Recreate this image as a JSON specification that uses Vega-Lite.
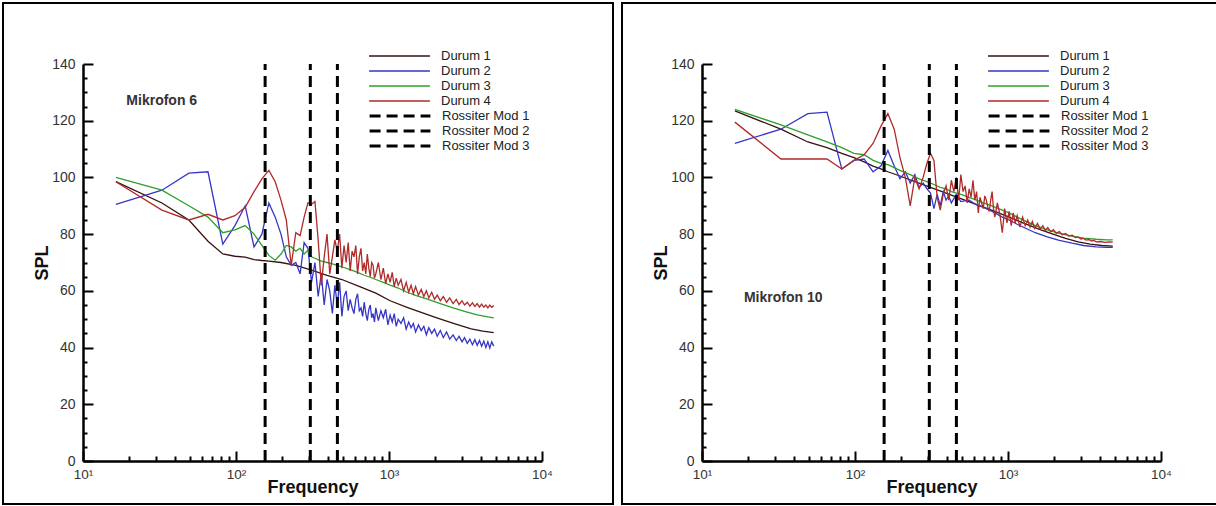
{
  "$schema": "https://vega.github.io/schema/vega-lite/v6.json",
  "background": "white",
  "padding": {"left": 2, "top": 2, "right": 0, "bottom": 0},
  "spacing": 7,
  "config": {
    "font": "Liberation Sans",
    "view": {"stroke": "black", "strokeWidth": 2},
    "axis": {"grid": false, "domainColor": "black", "tickColor": "black", "labelColor": "#333", "titleColor": "#111"}
  },
  "datasets": {
    "m6": [
      {"series": "Durum 1", "f": 16.4, "spl": 98.5}, {"series": "Durum 1", "f": 32.8, "spl": 91}, {"series": "Durum 1", "f": 49.2, "spl": 85}, {"series": "Durum 1", "f": 65.6, "spl": 77.5}, {"series": "Durum 1", "f": 82, "spl": 73}, {"series": "Durum 1", "f": 98.4, "spl": 72.2}, {"series": "Durum 1", "f": 114.8, "spl": 71.9}, {"series": "Durum 1", "f": 131.2, "spl": 71}, {"series": "Durum 1", "f": 147.6, "spl": 70.7}, {"series": "Durum 1", "f": 164, "spl": 70.5}, {"series": "Durum 1", "f": 196.8, "spl": 70}, {"series": "Durum 1", "f": 246, "spl": 69}, {"series": "Durum 1", "f": 311.6, "spl": 67.3}, {"series": "Durum 1", "f": 393.6, "spl": 65.5}, {"series": "Durum 1", "f": 492, "spl": 64}, {"series": "Durum 1", "f": 656, "spl": 61.3}, {"series": "Durum 1", "f": 820, "spl": 59.2}, {"series": "Durum 1", "f": 1017, "spl": 56.5}, {"series": "Durum 1", "f": 1312, "spl": 54.2}, {"series": "Durum 1", "f": 1640, "spl": 52.3}, {"series": "Durum 1", "f": 1968, "spl": 50.8}, {"series": "Durum 1", "f": 2378, "spl": 49.3}, {"series": "Durum 1", "f": 2870, "spl": 47.9}, {"series": "Durum 1", "f": 3444, "spl": 46.6}, {"series": "Durum 1", "f": 4100, "spl": 45.8}, {"series": "Durum 1", "f": 4838, "spl": 45.3},

      {"series": "Durum 2", "f": 16.4, "spl": 90.5}, {"series": "Durum 2", "f": 32.8, "spl": 95.5}, {"series": "Durum 2", "f": 49.2, "spl": 101.5}, {"series": "Durum 2", "f": 65.6, "spl": 102}, {"series": "Durum 2", "f": 82, "spl": 76.5}, {"series": "Durum 2", "f": 98.4, "spl": 83}, {"series": "Durum 2", "f": 114.8, "spl": 90}, {"series": "Durum 2", "f": 131.2, "spl": 75.5}, {"series": "Durum 2", "f": 147.6, "spl": 80}, {"series": "Durum 2", "f": 164, "spl": 91}, {"series": "Durum 2", "f": 180.4, "spl": 86}, {"series": "Durum 2", "f": 196.8, "spl": 80}, {"series": "Durum 2", "f": 213.2, "spl": 72}, {"series": "Durum 2", "f": 229.6, "spl": 69}, {"series": "Durum 2", "f": 246, "spl": 70}, {"series": "Durum 2", "f": 262.4, "spl": 66}, {"series": "Durum 2", "f": 278.8, "spl": 77}, {"series": "Durum 2", "f": 295.2, "spl": 75}, {"series": "Durum 2", "f": 311.6, "spl": 63}, {"series": "Durum 2", "f": 328, "spl": 70}, {"series": "Durum 2", "f": 344.4, "spl": 58}, {"series": "Durum 2", "f": 360.8, "spl": 66}, {"series": "Durum 2", "f": 377.2, "spl": 55}, {"series": "Durum 2", "f": 393.6, "spl": 64}, {"series": "Durum 2", "f": 410, "spl": 60}, {"series": "Durum 2", "f": 426.4, "spl": 52}, {"series": "Durum 2", "f": 442.8, "spl": 62}, {"series": "Durum 2", "f": 459.2, "spl": 55}, {"series": "Durum 2", "f": 475.6, "spl": 63}, {"series": "Durum 2", "f": 492, "spl": 51}, {"series": "Durum 2", "f": 508.4, "spl": 58}, {"series": "Durum 2", "f": 524.8, "spl": 60}, {"series": "Durum 2", "f": 541.2, "spl": 53}, {"series": "Durum 2", "f": 557.6, "spl": 57}, {"series": "Durum 2", "f": 574, "spl": 54}, {"series": "Durum 2", "f": 590.4, "spl": 52}, {"series": "Durum 2", "f": 606.8, "spl": 57}, {"series": "Durum 2", "f": 623.2, "spl": 59}, {"series": "Durum 2", "f": 639.6, "spl": 53}, {"series": "Durum 2", "f": 656, "spl": 54}, {"series": "Durum 2", "f": 672.4, "spl": 51}, {"series": "Durum 2", "f": 688.8, "spl": 56}, {"series": "Durum 2", "f": 705.2, "spl": 52}, {"series": "Durum 2", "f": 721.6, "spl": 49.5}, {"series": "Durum 2", "f": 738, "spl": 53.5}, {"series": "Durum 2", "f": 754.4, "spl": 55}, {"series": "Durum 2", "f": 770.8, "spl": 50.5}, {"series": "Durum 2", "f": 787.2, "spl": 52}, {"series": "Durum 2", "f": 803.6, "spl": 49}, {"series": "Durum 2", "f": 820, "spl": 54}, {"series": "Durum 2", "f": 852, "spl": 49.5}, {"series": "Durum 2", "f": 885, "spl": 53}, {"series": "Durum 2", "f": 918, "spl": 50.5}, {"series": "Durum 2", "f": 951, "spl": 53.5}, {"series": "Durum 2", "f": 984, "spl": 48}, {"series": "Durum 2", "f": 1017, "spl": 51.5}, {"series": "Durum 2", "f": 1050, "spl": 49}, {"series": "Durum 2", "f": 1082, "spl": 52}, {"series": "Durum 2", "f": 1115, "spl": 47.5}, {"series": "Durum 2", "f": 1148, "spl": 50}, {"series": "Durum 2", "f": 1197, "spl": 48.5}, {"series": "Durum 2", "f": 1246, "spl": 50.5}, {"series": "Durum 2", "f": 1295, "spl": 46.5}, {"series": "Durum 2", "f": 1345, "spl": 49}, {"series": "Durum 2", "f": 1394, "spl": 47}, {"series": "Durum 2", "f": 1443, "spl": 48.5}, {"series": "Durum 2", "f": 1492, "spl": 45.5}, {"series": "Durum 2", "f": 1558, "spl": 48}, {"series": "Durum 2", "f": 1624, "spl": 46}, {"series": "Durum 2", "f": 1689, "spl": 47.5}, {"series": "Durum 2", "f": 1755, "spl": 44.5}, {"series": "Durum 2", "f": 1820, "spl": 47}, {"series": "Durum 2", "f": 1902, "spl": 45}, {"series": "Durum 2", "f": 1984, "spl": 46.5}, {"series": "Durum 2", "f": 2066, "spl": 44}, {"series": "Durum 2", "f": 2165, "spl": 46}, {"series": "Durum 2", "f": 2264, "spl": 43.5}, {"series": "Durum 2", "f": 2378, "spl": 45.5}, {"series": "Durum 2", "f": 2493, "spl": 43}, {"series": "Durum 2", "f": 2624, "spl": 44.5}, {"series": "Durum 2", "f": 2755, "spl": 42.5}, {"series": "Durum 2", "f": 2870, "spl": 44}, {"series": "Durum 2", "f": 3001, "spl": 42}, {"series": "Durum 2", "f": 3116, "spl": 43.5}, {"series": "Durum 2", "f": 3247, "spl": 41.5}, {"series": "Durum 2", "f": 3378, "spl": 43}, {"series": "Durum 2", "f": 3509, "spl": 41}, {"series": "Durum 2", "f": 3641, "spl": 42.8}, {"series": "Durum 2", "f": 3772, "spl": 40.8}, {"series": "Durum 2", "f": 3903, "spl": 42.5}, {"series": "Durum 2", "f": 4034, "spl": 40.5}, {"series": "Durum 2", "f": 4166, "spl": 42.3}, {"series": "Durum 2", "f": 4297, "spl": 40}, {"series": "Durum 2", "f": 4428, "spl": 42}, {"series": "Durum 2", "f": 4559, "spl": 39.8}, {"series": "Durum 2", "f": 4690, "spl": 42}, {"series": "Durum 2", "f": 4838, "spl": 40.5},

      {"series": "Durum 3", "f": 16.4, "spl": 100}, {"series": "Durum 3", "f": 32.8, "spl": 95.5}, {"series": "Durum 3", "f": 49.2, "spl": 90}, {"series": "Durum 3", "f": 65.6, "spl": 86}, {"series": "Durum 3", "f": 82, "spl": 80.5}, {"series": "Durum 3", "f": 98.4, "spl": 81.5}, {"series": "Durum 3", "f": 114.8, "spl": 83}, {"series": "Durum 3", "f": 131.2, "spl": 80}, {"series": "Durum 3", "f": 147.6, "spl": 76}, {"series": "Durum 3", "f": 164, "spl": 72.5}, {"series": "Durum 3", "f": 180.4, "spl": 70.8}, {"series": "Durum 3", "f": 196.8, "spl": 73}, {"series": "Durum 3", "f": 213.2, "spl": 76}, {"series": "Durum 3", "f": 229.6, "spl": 75.5}, {"series": "Durum 3", "f": 246, "spl": 74}, {"series": "Durum 3", "f": 262.4, "spl": 75}, {"series": "Durum 3", "f": 278.8, "spl": 73}, {"series": "Durum 3", "f": 295.2, "spl": 74.3}, {"series": "Durum 3", "f": 311.6, "spl": 72}, {"series": "Durum 3", "f": 328, "spl": 71.5}, {"series": "Durum 3", "f": 360.8, "spl": 70.5}, {"series": "Durum 3", "f": 393.6, "spl": 70}, {"series": "Durum 3", "f": 426.4, "spl": 69.5}, {"series": "Durum 3", "f": 459.2, "spl": 69}, {"series": "Durum 3", "f": 492, "spl": 68.5}, {"series": "Durum 3", "f": 557.6, "spl": 67.5}, {"series": "Durum 3", "f": 623.2, "spl": 66.5}, {"series": "Durum 3", "f": 688.8, "spl": 65.5}, {"series": "Durum 3", "f": 754.4, "spl": 64.8}, {"series": "Durum 3", "f": 820, "spl": 64}, {"series": "Durum 3", "f": 918.4, "spl": 63}, {"series": "Durum 3", "f": 1017, "spl": 62}, {"series": "Durum 3", "f": 1148, "spl": 61}, {"series": "Durum 3", "f": 1312, "spl": 59.5}, {"series": "Durum 3", "f": 1509, "spl": 58.3}, {"series": "Durum 3", "f": 1804, "spl": 57}, {"series": "Durum 3", "f": 2165, "spl": 55.5}, {"series": "Durum 3", "f": 2624, "spl": 54}, {"series": "Durum 3", "f": 3116, "spl": 52.8}, {"series": "Durum 3", "f": 3772, "spl": 51.5}, {"series": "Durum 3", "f": 4428, "spl": 50.8}, {"series": "Durum 3", "f": 4838, "spl": 50.5},

      {"series": "Durum 4", "f": 16.4, "spl": 98.5}, {"series": "Durum 4", "f": 32.8, "spl": 88.5}, {"series": "Durum 4", "f": 49.2, "spl": 85}, {"series": "Durum 4", "f": 65.6, "spl": 87}, {"series": "Durum 4", "f": 82, "spl": 85}, {"series": "Durum 4", "f": 98.4, "spl": 86.5}, {"series": "Durum 4", "f": 114.8, "spl": 89.5}, {"series": "Durum 4", "f": 131.2, "spl": 95}, {"series": "Durum 4", "f": 147.6, "spl": 99.5}, {"series": "Durum 4", "f": 164, "spl": 102.5}, {"series": "Durum 4", "f": 180.4, "spl": 98.5}, {"series": "Durum 4", "f": 196.8, "spl": 92}, {"series": "Durum 4", "f": 213.2, "spl": 85}, {"series": "Durum 4", "f": 229.6, "spl": 69}, {"series": "Durum 4", "f": 246, "spl": 80.5}, {"series": "Durum 4", "f": 262.4, "spl": 79.5}, {"series": "Durum 4", "f": 278.8, "spl": 86}, {"series": "Durum 4", "f": 295.2, "spl": 91}, {"series": "Durum 4", "f": 311.6, "spl": 90.5}, {"series": "Durum 4", "f": 328, "spl": 91.5}, {"series": "Durum 4", "f": 344.4, "spl": 78}, {"series": "Durum 4", "f": 360.8, "spl": 62}, {"series": "Durum 4", "f": 377.2, "spl": 72}, {"series": "Durum 4", "f": 393.6, "spl": 80}, {"series": "Durum 4", "f": 410, "spl": 66}, {"series": "Durum 4", "f": 426.4, "spl": 72}, {"series": "Durum 4", "f": 442.8, "spl": 78}, {"series": "Durum 4", "f": 459.2, "spl": 74}, {"series": "Durum 4", "f": 475.6, "spl": 80}, {"series": "Durum 4", "f": 492, "spl": 68}, {"series": "Durum 4", "f": 508.4, "spl": 76}, {"series": "Durum 4", "f": 524.8, "spl": 70}, {"series": "Durum 4", "f": 541.2, "spl": 77}, {"series": "Durum 4", "f": 557.6, "spl": 67}, {"series": "Durum 4", "f": 574, "spl": 74}, {"series": "Durum 4", "f": 590.4, "spl": 72}, {"series": "Durum 4", "f": 606.8, "spl": 76}, {"series": "Durum 4", "f": 623.2, "spl": 66}, {"series": "Durum 4", "f": 639.6, "spl": 72}, {"series": "Durum 4", "f": 656, "spl": 75}, {"series": "Durum 4", "f": 672.4, "spl": 67}, {"series": "Durum 4", "f": 688.8, "spl": 70}, {"series": "Durum 4", "f": 705.2, "spl": 66}, {"series": "Durum 4", "f": 721.6, "spl": 73}, {"series": "Durum 4", "f": 738, "spl": 68}, {"series": "Durum 4", "f": 754.4, "spl": 65}, {"series": "Durum 4", "f": 770.8, "spl": 70}, {"series": "Durum 4", "f": 787.2, "spl": 69}, {"series": "Durum 4", "f": 803.6, "spl": 64.5}, {"series": "Durum 4", "f": 820, "spl": 66}, {"series": "Durum 4", "f": 852, "spl": 70}, {"series": "Durum 4", "f": 885, "spl": 64}, {"series": "Durum 4", "f": 918, "spl": 68}, {"series": "Durum 4", "f": 951, "spl": 62.5}, {"series": "Durum 4", "f": 984, "spl": 66}, {"series": "Durum 4", "f": 1017, "spl": 63}, {"series": "Durum 4", "f": 1050, "spl": 66.5}, {"series": "Durum 4", "f": 1082, "spl": 61.5}, {"series": "Durum 4", "f": 1115, "spl": 64.5}, {"series": "Durum 4", "f": 1148, "spl": 62}, {"series": "Durum 4", "f": 1197, "spl": 64}, {"series": "Durum 4", "f": 1246, "spl": 60}, {"series": "Durum 4", "f": 1295, "spl": 63}, {"series": "Durum 4", "f": 1345, "spl": 59.5}, {"series": "Durum 4", "f": 1394, "spl": 62}, {"series": "Durum 4", "f": 1443, "spl": 59}, {"series": "Durum 4", "f": 1492, "spl": 61.5}, {"series": "Durum 4", "f": 1558, "spl": 58.5}, {"series": "Durum 4", "f": 1624, "spl": 60.5}, {"series": "Durum 4", "f": 1689, "spl": 58}, {"series": "Durum 4", "f": 1755, "spl": 60}, {"series": "Durum 4", "f": 1820, "spl": 57.5}, {"series": "Durum 4", "f": 1902, "spl": 59.5}, {"series": "Durum 4", "f": 1984, "spl": 57}, {"series": "Durum 4", "f": 2066, "spl": 58.5}, {"series": "Durum 4", "f": 2165, "spl": 56.5}, {"series": "Durum 4", "f": 2264, "spl": 58}, {"series": "Durum 4", "f": 2378, "spl": 56}, {"series": "Durum 4", "f": 2493, "spl": 57.5}, {"series": "Durum 4", "f": 2624, "spl": 55.5}, {"series": "Durum 4", "f": 2755, "spl": 57}, {"series": "Durum 4", "f": 2870, "spl": 55.2}, {"series": "Durum 4", "f": 3001, "spl": 56.5}, {"series": "Durum 4", "f": 3116, "spl": 55}, {"series": "Durum 4", "f": 3247, "spl": 56}, {"series": "Durum 4", "f": 3378, "spl": 54.6}, {"series": "Durum 4", "f": 3509, "spl": 55.8}, {"series": "Durum 4", "f": 3641, "spl": 54.5}, {"series": "Durum 4", "f": 3772, "spl": 55.5}, {"series": "Durum 4", "f": 3903, "spl": 54.3}, {"series": "Durum 4", "f": 4034, "spl": 55.3}, {"series": "Durum 4", "f": 4166, "spl": 54.2}, {"series": "Durum 4", "f": 4297, "spl": 55}, {"series": "Durum 4", "f": 4428, "spl": 54}, {"series": "Durum 4", "f": 4559, "spl": 55}, {"series": "Durum 4", "f": 4690, "spl": 54.2}, {"series": "Durum 4", "f": 4838, "spl": 54.8}
    ],
    "m10": [
      {"series": "Durum 1", "f": 16.4, "spl": 123.5}, {"series": "Durum 1", "f": 32.8, "spl": 117}, {"series": "Durum 1", "f": 49.2, "spl": 112.5}, {"series": "Durum 1", "f": 65.6, "spl": 110.5}, {"series": "Durum 1", "f": 82, "spl": 108.5}, {"series": "Durum 1", "f": 98.4, "spl": 107}, {"series": "Durum 1", "f": 114.8, "spl": 105.5}, {"series": "Durum 1", "f": 131.2, "spl": 104}, {"series": "Durum 1", "f": 147.6, "spl": 103}, {"series": "Durum 1", "f": 164, "spl": 102}, {"series": "Durum 1", "f": 196.8, "spl": 100.5}, {"series": "Durum 1", "f": 246, "spl": 98.5}, {"series": "Durum 1", "f": 311.6, "spl": 96.5}, {"series": "Durum 1", "f": 393.6, "spl": 94.5}, {"series": "Durum 1", "f": 492, "spl": 92.5}, {"series": "Durum 1", "f": 656, "spl": 90}, {"series": "Durum 1", "f": 820, "spl": 88}, {"series": "Durum 1", "f": 1017, "spl": 86}, {"series": "Durum 1", "f": 1312, "spl": 83.5}, {"series": "Durum 1", "f": 1640, "spl": 81.5}, {"series": "Durum 1", "f": 1968, "spl": 80}, {"series": "Durum 1", "f": 2378, "spl": 78.5}, {"series": "Durum 1", "f": 2870, "spl": 77.3}, {"series": "Durum 1", "f": 3444, "spl": 76.5}, {"series": "Durum 1", "f": 4100, "spl": 76}, {"series": "Durum 1", "f": 4838, "spl": 75.8},

      {"series": "Durum 2", "f": 16.4, "spl": 112}, {"series": "Durum 2", "f": 32.8, "spl": 117}, {"series": "Durum 2", "f": 49.2, "spl": 122.5}, {"series": "Durum 2", "f": 65.6, "spl": 123}, {"series": "Durum 2", "f": 82, "spl": 103}, {"series": "Durum 2", "f": 98.4, "spl": 106}, {"series": "Durum 2", "f": 114.8, "spl": 106.5}, {"series": "Durum 2", "f": 131.2, "spl": 102}, {"series": "Durum 2", "f": 147.6, "spl": 104}, {"series": "Durum 2", "f": 164, "spl": 109.5}, {"series": "Durum 2", "f": 180.4, "spl": 104}, {"series": "Durum 2", "f": 196.8, "spl": 99.5}, {"series": "Durum 2", "f": 213.2, "spl": 102}, {"series": "Durum 2", "f": 229.6, "spl": 98}, {"series": "Durum 2", "f": 246, "spl": 101}, {"series": "Durum 2", "f": 262.4, "spl": 96.5}, {"series": "Durum 2", "f": 278.8, "spl": 98}, {"series": "Durum 2", "f": 295.2, "spl": 96}, {"series": "Durum 2", "f": 311.6, "spl": 94.5}, {"series": "Durum 2", "f": 328, "spl": 89}, {"series": "Durum 2", "f": 344.4, "spl": 94}, {"series": "Durum 2", "f": 360.8, "spl": 90}, {"series": "Durum 2", "f": 377.2, "spl": 95}, {"series": "Durum 2", "f": 393.6, "spl": 92}, {"series": "Durum 2", "f": 410, "spl": 93.5}, {"series": "Durum 2", "f": 426.4, "spl": 91}, {"series": "Durum 2", "f": 459.2, "spl": 94}, {"series": "Durum 2", "f": 492, "spl": 91.5}, {"series": "Durum 2", "f": 557.6, "spl": 92}, {"series": "Durum 2", "f": 623.2, "spl": 90.3}, {"series": "Durum 2", "f": 688.8, "spl": 89.5}, {"series": "Durum 2", "f": 754.4, "spl": 88.5}, {"series": "Durum 2", "f": 820, "spl": 87.5}, {"series": "Durum 2", "f": 918.4, "spl": 86}, {"series": "Durum 2", "f": 1017, "spl": 85}, {"series": "Durum 2", "f": 1148, "spl": 83.5}, {"series": "Durum 2", "f": 1312, "spl": 82}, {"series": "Durum 2", "f": 1509, "spl": 80.5}, {"series": "Durum 2", "f": 1804, "spl": 79}, {"series": "Durum 2", "f": 2165, "spl": 77.8}, {"series": "Durum 2", "f": 2624, "spl": 76.8}, {"series": "Durum 2", "f": 3116, "spl": 76}, {"series": "Durum 2", "f": 3772, "spl": 75.5}, {"series": "Durum 2", "f": 4428, "spl": 75.3}, {"series": "Durum 2", "f": 4838, "spl": 75.3},

      {"series": "Durum 3", "f": 16.4, "spl": 124}, {"series": "Durum 3", "f": 32.8, "spl": 118.5}, {"series": "Durum 3", "f": 49.2, "spl": 115}, {"series": "Durum 3", "f": 65.6, "spl": 112.5}, {"series": "Durum 3", "f": 82, "spl": 110.5}, {"series": "Durum 3", "f": 98.4, "spl": 108.5}, {"series": "Durum 3", "f": 114.8, "spl": 108}, {"series": "Durum 3", "f": 131.2, "spl": 106}, {"series": "Durum 3", "f": 147.6, "spl": 105}, {"series": "Durum 3", "f": 164, "spl": 104.5}, {"series": "Durum 3", "f": 196.8, "spl": 102.5}, {"series": "Durum 3", "f": 229.6, "spl": 101}, {"series": "Durum 3", "f": 262.4, "spl": 99.5}, {"series": "Durum 3", "f": 295.2, "spl": 98.5}, {"series": "Durum 3", "f": 328, "spl": 97.5}, {"series": "Durum 3", "f": 360.8, "spl": 96.5}, {"series": "Durum 3", "f": 393.6, "spl": 96}, {"series": "Durum 3", "f": 426.4, "spl": 95}, {"series": "Durum 3", "f": 459.2, "spl": 94.5}, {"series": "Durum 3", "f": 492, "spl": 94}, {"series": "Durum 3", "f": 557.6, "spl": 93}, {"series": "Durum 3", "f": 623.2, "spl": 92}, {"series": "Durum 3", "f": 688.8, "spl": 91}, {"series": "Durum 3", "f": 754.4, "spl": 90.3}, {"series": "Durum 3", "f": 820, "spl": 89.5}, {"series": "Durum 3", "f": 918.4, "spl": 88.5}, {"series": "Durum 3", "f": 1017, "spl": 87.5}, {"series": "Durum 3", "f": 1148, "spl": 86}, {"series": "Durum 3", "f": 1312, "spl": 84.5}, {"series": "Durum 3", "f": 1509, "spl": 83}, {"series": "Durum 3", "f": 1804, "spl": 81.5}, {"series": "Durum 3", "f": 2165, "spl": 80.3}, {"series": "Durum 3", "f": 2624, "spl": 79.3}, {"series": "Durum 3", "f": 3116, "spl": 78.6}, {"series": "Durum 3", "f": 3772, "spl": 78.2}, {"series": "Durum 3", "f": 4428, "spl": 78}, {"series": "Durum 3", "f": 4838, "spl": 78},

      {"series": "Durum 4", "f": 16.4, "spl": 119.5}, {"series": "Durum 4", "f": 32.8, "spl": 106.5}, {"series": "Durum 4", "f": 49.2, "spl": 106.5}, {"series": "Durum 4", "f": 65.6, "spl": 106.5}, {"series": "Durum 4", "f": 82, "spl": 103}, {"series": "Durum 4", "f": 98.4, "spl": 106}, {"series": "Durum 4", "f": 114.8, "spl": 108}, {"series": "Durum 4", "f": 131.2, "spl": 112}, {"series": "Durum 4", "f": 147.6, "spl": 118}, {"series": "Durum 4", "f": 164, "spl": 122.5}, {"series": "Durum 4", "f": 180.4, "spl": 117}, {"series": "Durum 4", "f": 196.8, "spl": 107}, {"series": "Durum 4", "f": 213.2, "spl": 100}, {"series": "Durum 4", "f": 229.6, "spl": 90}, {"series": "Durum 4", "f": 246, "spl": 100}, {"series": "Durum 4", "f": 262.4, "spl": 96}, {"series": "Durum 4", "f": 278.8, "spl": 100}, {"series": "Durum 4", "f": 295.2, "spl": 105}, {"series": "Durum 4", "f": 311.6, "spl": 108.5}, {"series": "Durum 4", "f": 328, "spl": 106}, {"series": "Durum 4", "f": 344.4, "spl": 93}, {"series": "Durum 4", "f": 360.8, "spl": 88.5}, {"series": "Durum 4", "f": 377.2, "spl": 94}, {"series": "Durum 4", "f": 393.6, "spl": 97}, {"series": "Durum 4", "f": 410, "spl": 92}, {"series": "Durum 4", "f": 426.4, "spl": 99}, {"series": "Durum 4", "f": 442.8, "spl": 95}, {"series": "Durum 4", "f": 459.2, "spl": 100}, {"series": "Durum 4", "f": 475.6, "spl": 92}, {"series": "Durum 4", "f": 492, "spl": 101}, {"series": "Durum 4", "f": 508.4, "spl": 95}, {"series": "Durum 4", "f": 524.8, "spl": 97}, {"series": "Durum 4", "f": 541.2, "spl": 91}, {"series": "Durum 4", "f": 557.6, "spl": 96}, {"series": "Durum 4", "f": 574, "spl": 93}, {"series": "Durum 4", "f": 590.4, "spl": 99}, {"series": "Durum 4", "f": 606.8, "spl": 92}, {"series": "Durum 4", "f": 623.2, "spl": 95}, {"series": "Durum 4", "f": 639.6, "spl": 87.5}, {"series": "Durum 4", "f": 656, "spl": 93}, {"series": "Durum 4", "f": 672.4, "spl": 91}, {"series": "Durum 4", "f": 688.8, "spl": 89}, {"series": "Durum 4", "f": 705.2, "spl": 93.5}, {"series": "Durum 4", "f": 721.6, "spl": 92}, {"series": "Durum 4", "f": 738, "spl": 89.5}, {"series": "Durum 4", "f": 754.4, "spl": 88}, {"series": "Durum 4", "f": 770.8, "spl": 92}, {"series": "Durum 4", "f": 787.2, "spl": 95}, {"series": "Durum 4", "f": 803.6, "spl": 89}, {"series": "Durum 4", "f": 820, "spl": 86}, {"series": "Durum 4", "f": 852, "spl": 91}, {"series": "Durum 4", "f": 885, "spl": 87}, {"series": "Durum 4", "f": 918, "spl": 80.5}, {"series": "Durum 4", "f": 951, "spl": 89}, {"series": "Durum 4", "f": 984, "spl": 84}, {"series": "Durum 4", "f": 1017, "spl": 88}, {"series": "Durum 4", "f": 1050, "spl": 83}, {"series": "Durum 4", "f": 1082, "spl": 87.5}, {"series": "Durum 4", "f": 1115, "spl": 84}, {"series": "Durum 4", "f": 1148, "spl": 86.5}, {"series": "Durum 4", "f": 1197, "spl": 82.5}, {"series": "Durum 4", "f": 1246, "spl": 86}, {"series": "Durum 4", "f": 1295, "spl": 83}, {"series": "Durum 4", "f": 1345, "spl": 85}, {"series": "Durum 4", "f": 1394, "spl": 82.5}, {"series": "Durum 4", "f": 1443, "spl": 84.5}, {"series": "Durum 4", "f": 1492, "spl": 82}, {"series": "Durum 4", "f": 1558, "spl": 83.8}, {"series": "Durum 4", "f": 1624, "spl": 81.8}, {"series": "Durum 4", "f": 1689, "spl": 83}, {"series": "Durum 4", "f": 1755, "spl": 81.3}, {"series": "Durum 4", "f": 1820, "spl": 82.3}, {"series": "Durum 4", "f": 1902, "spl": 80.8}, {"series": "Durum 4", "f": 1984, "spl": 81.6}, {"series": "Durum 4", "f": 2066, "spl": 80.3}, {"series": "Durum 4", "f": 2165, "spl": 80.9}, {"series": "Durum 4", "f": 2264, "spl": 79.8}, {"series": "Durum 4", "f": 2378, "spl": 80.2}, {"series": "Durum 4", "f": 2493, "spl": 79.3}, {"series": "Durum 4", "f": 2624, "spl": 79.6}, {"series": "Durum 4", "f": 2755, "spl": 78.8}, {"series": "Durum 4", "f": 2870, "spl": 79}, {"series": "Durum 4", "f": 3001, "spl": 78.3}, {"series": "Durum 4", "f": 3116, "spl": 78.5}, {"series": "Durum 4", "f": 3247, "spl": 77.9}, {"series": "Durum 4", "f": 3378, "spl": 78.1}, {"series": "Durum 4", "f": 3509, "spl": 77.6}, {"series": "Durum 4", "f": 3641, "spl": 77.8}, {"series": "Durum 4", "f": 3772, "spl": 77.3}, {"series": "Durum 4", "f": 4034, "spl": 77.4}, {"series": "Durum 4", "f": 4297, "spl": 77.1}, {"series": "Durum 4", "f": 4559, "spl": 77.3}, {"series": "Durum 4", "f": 4838, "spl": 77.2}
    ],
    "ross": [
      {"series": "Rossiter Mod 1", "f": 155},
      {"series": "Rossiter Mod 2", "f": 306},
      {"series": "Rossiter Mod 3", "f": 460}
    ]
  },
  "resolve": {
    "scale": {"color": "independent", "strokeDash": "independent", "x": "independent", "y": "independent"},
    "legend": {"color": "independent", "strokeDash": "independent"}
  },
  "hconcat": [
    {
      "width": 610,
      "height": 501,
      "resolve": {"axis": {"x": "independent", "y": "independent"}},
      "layer": [
        {
          "data": {"name": "m6"},
          "mark": {"type": "line", "strokeWidth": 1.3},
          "encoding": {
            "x": {"field": "f", "type": "quantitative",
              "scale": {"type": "log", "domain": [10, 10000], "range": [80, 539], "nice": false},
              "axis": {"orient": "bottom", "offset": -43, "values": [10, 100, 1000, 10000], "labelExpr": "datum.value == 10 ? '10\u00b9' : datum.value == 100 ? '10\u00b2' : datum.value == 1000 ? '10\u00b3' : '10\u2074'", "tickSize": -10, "tickWidth": 2, "domainWidth": 2.5, "labelPadding": 16, "labelFontSize": 13.5, "labelFlush": false, "labelOverlap": false, "title": "Frequency", "titleFontSize": 18, "titleFontWeight": "bold", "titleY": 31, "titleBaseline": "alphabetic"}},
            "y": {"field": "spl", "type": "quantitative",
              "scale": {"domain": [0, 140], "range": [458, 61], "nice": false, "zero": false},
              "axis": {"orient": "left", "offset": -80, "values": [0, 20, 40, 60, 80, 100, 120, 140], "tickSize": -10, "tickWidth": 2, "domainWidth": 2.5, "labelPadding": 18, "labelFontSize": 14, "labelFlush": false, "labelOverlap": false, "title": "SPL", "titleFontSize": 18, "titleFontWeight": "bold", "titleX": -36, "titleBaseline": "alphabetic"}},
            "color": {"field": "series", "type": "nominal",
              "scale": {"domain": ["Durum 1", "Durum 2", "Durum 3", "Durum 4"], "range": ["#3a1010", "#3535c8", "#2ca02c", "#b02a2a"]},
              "legend": {"orient": "none", "legendX": 365, "legendY": 45.5, "title": null, "symbolType": "stroke", "symbolSize": 3700, "symbolStrokeWidth": 1.3, "clipHeight": 15, "rowPadding": 0, "padding": 0, "labelOffset": 10, "labelFontSize": 13, "labelColor": "#222"}}
          }
        },
        {
          "data": {"name": "ross"},
          "mark": {"type": "rule", "strokeWidth": 3, "color": "black"},
          "encoding": {
            "x": {"field": "f", "type": "quantitative", "axis": null},
            "y": {"datum": 0, "type": "quantitative", "axis": null},
            "y2": {"datum": 140},
            "strokeDash": {"field": "series", "type": "nominal",
              "scale": {"domain": ["Rossiter Mod 1", "Rossiter Mod 2", "Rossiter Mod 3"], "range": [[11, 6], [11, 6], [11, 6]]},
              "legend": {"orient": "none", "legendX": 365, "legendY": 105.5, "title": null, "symbolType": "stroke", "symbolSize": 3700, "symbolStrokeWidth": 3, "symbolStrokeColor": "black", "clipHeight": 15, "rowPadding": 0, "padding": 0, "labelOffset": 10, "labelFontSize": 13, "labelColor": "#222"}}
          }
        },
        {
          "data": {"values": [{"label": "Mikrofon 6", "f": 19.2, "spl": 127}]},
          "mark": {"type": "text", "align": "left", "baseline": "middle", "fontSize": 14, "fontWeight": "bold", "color": "#333"},
          "encoding": {
            "x": {"field": "f", "type": "quantitative",
              "axis": {"orient": "bottom", "offset": -43, "values": [20, 30, 40, 50, 60, 70, 80, 90, 200, 300, 400, 500, 600, 700, 800, 900, 2000, 3000, 4000, 5000, 6000, 7000, 8000, 9000], "labels": false, "domain": false, "tickSize": -5, "tickWidth": 2, "title": null}},
            "y": {"field": "spl", "type": "quantitative",
              "axis": {"orient": "left", "offset": -80, "values": [5, 10, 15, 25, 30, 35, 45, 50, 55, 65, 70, 75, 85, 90, 95, 105, 110, 115, 125, 130, 135], "labels": false, "domain": false, "tickSize": -4, "tickWidth": 2, "title": null}},
            "text": {"field": "label"}
          }
        }
      ]
    },
    {
      "width": 597,
      "height": 501,
      "resolve": {"axis": {"x": "independent", "y": "independent"}},
      "layer": [
        {
          "data": {"name": "m10"},
          "mark": {"type": "line", "strokeWidth": 1.3},
          "encoding": {
            "x": {"field": "f", "type": "quantitative",
              "scale": {"type": "log", "domain": [10, 10000], "range": [80, 539], "nice": false},
              "axis": {"orient": "bottom", "offset": -43, "values": [10, 100, 1000, 10000], "labelExpr": "datum.value == 10 ? '10\u00b9' : datum.value == 100 ? '10\u00b2' : datum.value == 1000 ? '10\u00b3' : '10\u2074'", "tickSize": -10, "tickWidth": 2, "domainWidth": 2.5, "labelPadding": 16, "labelFontSize": 13.5, "labelFlush": false, "labelOverlap": false, "title": "Frequency", "titleFontSize": 18, "titleFontWeight": "bold", "titleY": 31, "titleBaseline": "alphabetic"}},
            "y": {"field": "spl", "type": "quantitative",
              "scale": {"domain": [0, 140], "range": [458, 61], "nice": false, "zero": false},
              "axis": {"orient": "left", "offset": -80, "values": [0, 20, 40, 60, 80, 100, 120, 140], "tickSize": -10, "tickWidth": 2, "domainWidth": 2.5, "labelPadding": 18, "labelFontSize": 14, "labelFlush": false, "labelOverlap": false, "title": "SPL", "titleFontSize": 18, "titleFontWeight": "bold", "titleX": -36, "titleBaseline": "alphabetic"}},
            "color": {"field": "series", "type": "nominal",
              "scale": {"domain": ["Durum 1", "Durum 2", "Durum 3", "Durum 4"], "range": ["#3a1010", "#3535c8", "#2ca02c", "#b02a2a"]},
              "legend": {"orient": "none", "legendX": 365, "legendY": 45.5, "title": null, "symbolType": "stroke", "symbolSize": 3700, "symbolStrokeWidth": 1.3, "clipHeight": 15, "rowPadding": 0, "padding": 0, "labelOffset": 10, "labelFontSize": 13, "labelColor": "#222"}}
          }
        },
        {
          "data": {"name": "ross"},
          "mark": {"type": "rule", "strokeWidth": 3, "color": "black"},
          "encoding": {
            "x": {"field": "f", "type": "quantitative", "axis": null},
            "y": {"datum": 0, "type": "quantitative", "axis": null},
            "y2": {"datum": 140},
            "strokeDash": {"field": "series", "type": "nominal",
              "scale": {"domain": ["Rossiter Mod 1", "Rossiter Mod 2", "Rossiter Mod 3"], "range": [[11, 6], [11, 6], [11, 6]]},
              "legend": {"orient": "none", "legendX": 365, "legendY": 105.5, "title": null, "symbolType": "stroke", "symbolSize": 3700, "symbolStrokeWidth": 3, "symbolStrokeColor": "black", "clipHeight": 15, "rowPadding": 0, "padding": 0, "labelOffset": 10, "labelFontSize": 13, "labelColor": "#222"}}
          }
        },
        {
          "data": {"values": [{"label": "Mikrofon 10", "f": 18.8, "spl": 57.5}]},
          "mark": {"type": "text", "align": "left", "baseline": "middle", "fontSize": 14, "fontWeight": "bold", "color": "#333"},
          "encoding": {
            "x": {"field": "f", "type": "quantitative",
              "axis": {"orient": "bottom", "offset": -43, "values": [20, 30, 40, 50, 60, 70, 80, 90, 200, 300, 400, 500, 600, 700, 800, 900, 2000, 3000, 4000, 5000, 6000, 7000, 8000, 9000], "labels": false, "domain": false, "tickSize": -5, "tickWidth": 2, "title": null}},
            "y": {"field": "spl", "type": "quantitative",
              "axis": {"orient": "left", "offset": -80, "values": [5, 10, 15, 25, 30, 35, 45, 50, 55, 65, 70, 75, 85, 90, 95, 105, 110, 115, 125, 130, 135], "labels": false, "domain": false, "tickSize": -4, "tickWidth": 2, "title": null}},
            "text": {"field": "label"}
          }
        }
      ]
    }
  ]
}
